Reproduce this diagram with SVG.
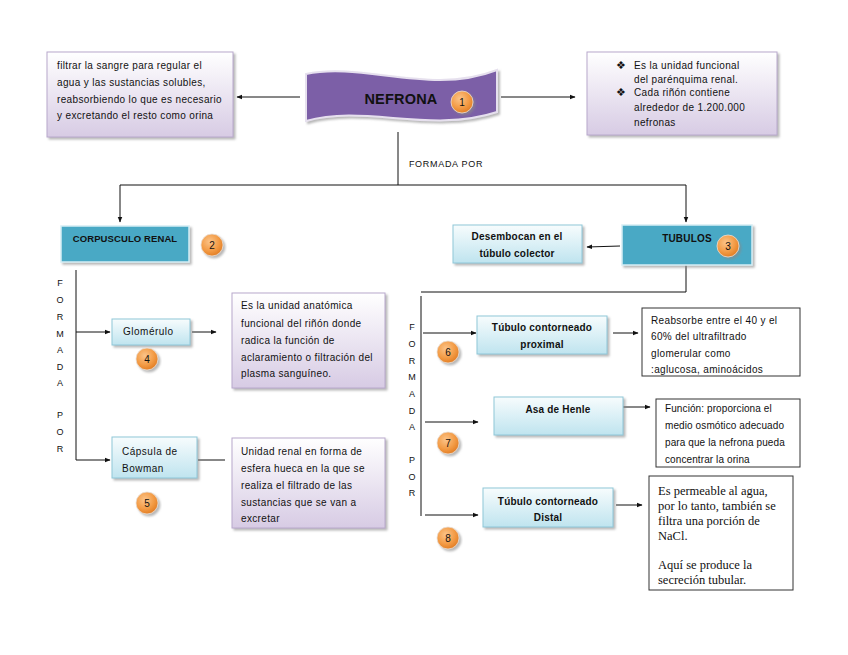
<svg xmlns="http://www.w3.org/2000/svg" width="848" height="655" viewBox="0 0 848 655">
<defs>
<linearGradient id="lav" x1="0" y1="0" x2="0" y2="1"><stop offset="0" stop-color="#ffffff"/><stop offset="1" stop-color="#d7cbe4"/></linearGradient>
<linearGradient id="lblue" x1="0" y1="0" x2="0" y2="1"><stop offset="0" stop-color="#f7fcfd"/><stop offset="1" stop-color="#bfe4ef"/></linearGradient>
<radialGradient id="orange" cx="0.4" cy="0.35" r="0.7"><stop offset="0" stop-color="#fbc48a"/><stop offset="0.6" stop-color="#f39b45"/><stop offset="1" stop-color="#e07a20"/></radialGradient>
<filter id="sh" x="-10%" y="-10%" width="125%" height="130%"><feDropShadow dx="2" dy="2" stdDeviation="1.2" flood-color="#888" flood-opacity="0.6"/></filter>
<marker id="ah" viewBox="0 0 10 10" refX="9" refY="5" markerWidth="6" markerHeight="6" orient="auto"><path d="M0,1 L10,5 L0,9 z" fill="#111"/></marker>
<style>
text{font-family:"Liberation Sans",Arial,sans-serif;fill:#111;font-size:10px;letter-spacing:0.35px}
.b{font-weight:bold;letter-spacing:0.2px;font-size:10px}
.mid{text-anchor:middle}
.s9{font-size:9.5px;letter-spacing:0.1px}
.s95{font-size:10px;letter-spacing:0.5px}
.big{font-size:14.5px}
.ls1{letter-spacing:0.1px}
.fp{font-size:9px;letter-spacing:0.7px;text-anchor:middle}
.bul{font-size:11px;letter-spacing:0}
.lav{fill:url(#lav);stroke:#b8a8cc;stroke-width:1;filter:url(#sh)}
.lb{fill:url(#lblue);stroke:#8fc7d8;stroke-width:1;filter:url(#sh)}
.teal{fill:#4aa9c5;stroke:#d6eef5;stroke-width:1.5;filter:url(#sh)}
.wb{fill:#fff;stroke:#333;stroke-width:1}
.ln{fill:none;stroke:#111;stroke-width:1}
.ar{fill:none;stroke:#111;stroke-width:1;marker-end:url(#ah)}
.badge circle{fill:url(#orange);stroke:#e8e0d8;stroke-width:0.8;filter:url(#sh)}
.badge text{font-size:10px;text-anchor:middle;letter-spacing:0}
.v{font-size:9px;text-anchor:middle;letter-spacing:0}
.tnr{font-family:"Liberation Serif","Times New Roman",serif;font-size:12.5px;letter-spacing:0}
</style>
</defs>

<g id="connectors">
<path class="ar" d="M300,97 H237"/>
<path class="ar" d="M501,97 H575"/>
<path class="ln" d="M398,132 V185"/>
<path class="ln" d="M120,185 H686"/>
<path class="ar" d="M120,185 V222"/>
<path class="ar" d="M686,185 V222"/>
<path class="ar" d="M620,246 L587,247"/>
<path class="ln" d="M76,270 V460"/>
<path class="ar" d="M76,332 H110"/>
<path class="ar" d="M76,460 H110"/>
<path class="ar" d="M192,332 H216"/>
<path class="ln" d="M198,460 H225"/>
<path class="ln" d="M686,265 V292 H421"/>
<path class="ln" d="M421,296 V516"/>
<path class="ar" d="M423,333 H476"/>
<path class="ar" d="M613,333 H638"/>
<path class="ar" d="M425,422 H478"/>
<path class="ar" d="M623,407 H650"/>
<path class="ar" d="M425,515 H478"/>
<path class="ar" d="M616,505 H642"/>
</g>

<g id="n-funcion">
<rect class="lav" x="47" y="52" width="186" height="85"/>
<text x="57" y="69">filtrar la sangre para regular el</text>
<text x="57" y="86">agua y las sustancias solubles,</text>
<text x="57" y="103">reabsorbiendo lo que es necesario</text>
<text x="57" y="119">y excretando  el resto como orina</text>
</g>

<g id="n-nefrona">
<path d="M306,74 C365,62 430,96 497,70 L497,112 C430,134 365,104 306,121 Z" fill="#7b5ea7" stroke="#e6e0ee" stroke-width="2" filter="url(#sh)"/>
<text x="401" y="104" class="b big mid">NEFRONA</text>
<g class="badge"><circle cx="462" cy="102" r="11"/><text x="462" y="105.5">1</text></g>
</g>

<g id="n-def">
<rect class="lav" x="587" y="52" width="190" height="83"/>
<text x="616" y="69" class="bul">❖</text>
<text x="634" y="69">Es la unidad funcional</text>
<text x="634" y="83">del parénquima renal.</text>
<text x="616" y="96" class="bul">❖</text>
<text x="634" y="96">Cada riñón contiene</text>
<text x="634" y="111">alrededor de 1.200.000</text>
<text x="634" y="126">nefronas</text>
</g>

<text x="446" y="167" class="fp">FORMADA POR</text>

<g id="n-corpusculo">
<rect class="teal" x="61" y="226" width="128" height="36"/>
<text x="125" y="242" class="b s9 mid">CORPUSCULO RENAL</text>
<g class="badge"><circle cx="212" cy="245" r="11"/><text x="212" y="248.5">2</text></g>
</g>

<g id="n-tubulos">
<rect class="teal" x="622" y="225" width="130" height="40"/>
<text x="687" y="242" class="b mid">TUBULOS</text>
<g class="badge"><circle cx="728" cy="246" r="11"/><text x="728" y="249.5">3</text></g>
</g>

<g id="n-desembocan">
<rect class="lb" x="453" y="225" width="129" height="38"/>
<text x="517" y="240" class="b mid">Desembocan en el</text>
<text x="517" y="257" class="b mid">túbulo colector</text>
</g>

<g id="formada-left">
<text class="v" x="60" y="286">F</text>
<text class="v" x="60" y="303">O</text>
<text class="v" x="60" y="320">R</text>
<text class="v" x="60" y="337">M</text>
<text class="v" x="60" y="353">A</text>
<text class="v" x="60" y="370">D</text>
<text class="v" x="60" y="386">A</text>
<text class="v" x="60" y="418">P</text>
<text class="v" x="60" y="435">O</text>
<text class="v" x="60" y="452">R</text>
</g>

<g id="formada-right">
<text class="v" x="412" y="330">F</text>
<text class="v" x="412" y="347">O</text>
<text class="v" x="412" y="364">R</text>
<text class="v" x="412" y="380">M</text>
<text class="v" x="412" y="397">A</text>
<text class="v" x="412" y="414">D</text>
<text class="v" x="412" y="430">A</text>
<text class="v" x="412" y="463">P</text>
<text class="v" x="412" y="480">O</text>
<text class="v" x="412" y="496">R</text>
</g>

<g id="n-glomerulo">
<rect class="lb" x="112" y="319" width="78" height="26"/>
<text x="123" y="335" class="s95">Glomérulo</text>
<g class="badge"><circle cx="147" cy="359" r="11"/><text x="147" y="362.5">4</text></g>
</g>

<g id="n-capsula">
<rect class="lb" x="112" y="437" width="85" height="41"/>
<text x="122" y="455" class="s95">Cápsula de</text>
<text x="122" y="472" class="s95">Bowman</text>
<g class="badge"><circle cx="147" cy="503" r="11"/><text x="147" y="506.5">5</text></g>
</g>

<g id="n-glom-desc">
<rect class="lav" x="232" y="293" width="153" height="95"/>
<text x="241" y="309">Es la unidad anatómica</text>
<text x="241" y="327">funcional del riñón donde</text>
<text x="241" y="344">radica la función de</text>
<text x="241" y="361">aclaramiento o filtración del</text>
<text x="241" y="377">plasma sanguíneo.</text>
</g>

<g id="n-bowman-desc">
<rect class="lav" x="232" y="438" width="153" height="90"/>
<text x="241" y="455">Unidad renal en forma de</text>
<text x="241" y="472">esfera hueca en la que se</text>
<text x="241" y="489">realiza el filtrado de las</text>
<text x="241" y="506">sustancias que se van a</text>
<text x="241" y="522">excretar</text>
</g>

<g id="n-proximal">
<rect class="lb" x="477" y="316" width="130" height="38"/>
<text x="542" y="331" class="b mid">Túbulo contorneado</text>
<text x="542" y="348" class="b mid">proximal</text>
<g class="badge"><circle cx="448" cy="352" r="11"/><text x="448" y="355.5">6</text></g>
</g>

<g id="n-henle">
<rect class="lb" x="494" y="397" width="129" height="38"/>
<text x="558" y="413" class="b mid">Asa de Henle</text>
<g class="badge"><circle cx="448" cy="443" r="11"/><text x="448" y="446.5">7</text></g>
</g>

<g id="n-distal">
<rect class="lb" x="483" y="488" width="130" height="39"/>
<text x="548" y="505" class="b mid">Túbulo contorneado</text>
<text x="548" y="521" class="b mid">Distal</text>
<g class="badge"><circle cx="448" cy="538" r="11"/><text x="448" y="541.5">8</text></g>
</g>

<g id="n-proximal-desc">
<rect class="wb" x="642" y="308" width="158" height="68"/>
<text x="651" y="324">Reabsorbe entre el 40 y el</text>
<text x="651" y="340">60%  del ultrafiltrado</text>
<text x="651" y="357">glomerular como</text>
<text x="651" y="373">:aglucosa, aminoácidos</text>
</g>

<g id="n-henle-desc">
<rect class="wb" x="656" y="399" width="144" height="68"/>
<text x="665" y="412" class="ls1">Función: proporciona el</text>
<text x="665" y="429" class="ls1">medio osmótico adecuado</text>
<text x="665" y="446" class="ls1">para que la nefrona pueda</text>
<text x="665" y="463" class="ls1">concentrar la orina</text>
</g>

<g id="n-distal-desc">
<rect class="wb" x="649" y="476" width="144" height="114"/>
<text class="tnr" x="658" y="495">Es permeable  al agua,</text>
<text class="tnr" x="658" y="510">por lo tanto, también se</text>
<text class="tnr" x="658" y="525">filtra una porción de</text>
<text class="tnr" x="658" y="540">NaCl.</text>
<text class="tnr" x="658" y="569">Aquí se produce la</text>
<text class="tnr" x="658" y="584">secreción tubular.</text>
</g>
</svg>
